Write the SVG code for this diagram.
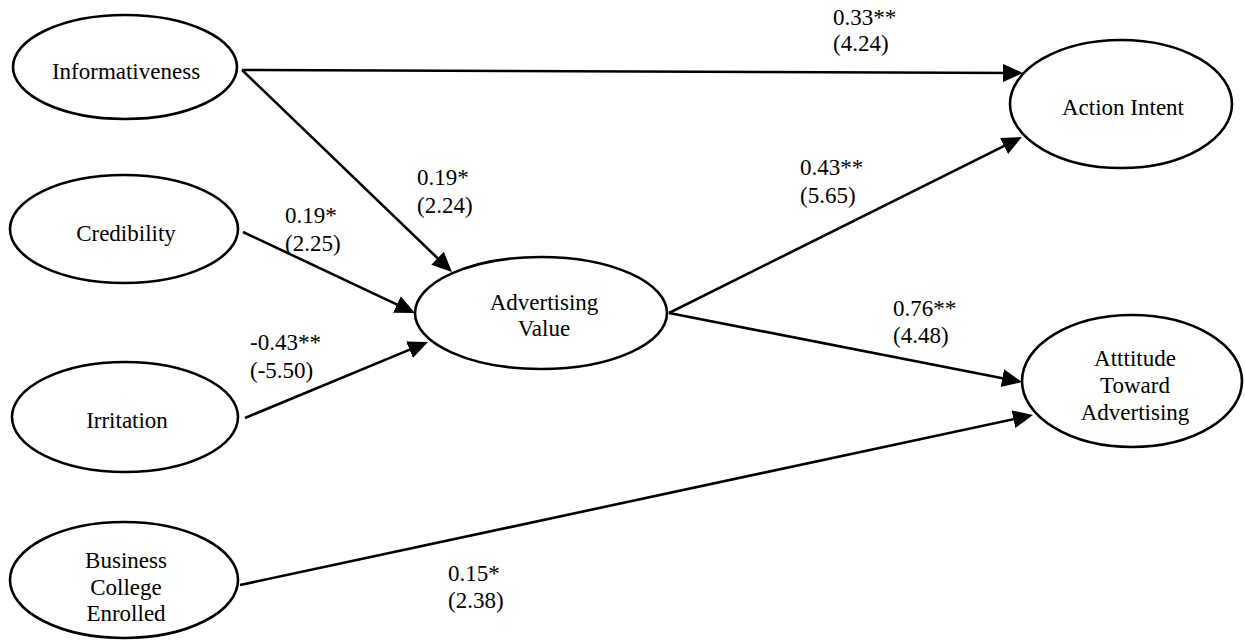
<svg xmlns="http://www.w3.org/2000/svg" width="1245" height="642" viewBox="0 0 1245 642" font-family="'Liberation Serif', 'Times New Roman', 'DejaVu Serif', serif">
<style>
.n{fill:#fff;stroke:#000;stroke-width:2.6}
.t{font-family:'Liberation Serif','Times New Roman','DejaVu Serif',serif;font-size:23px;fill:#000}
.c{text-anchor:middle}
.e{stroke:#000;stroke-width:2.6;fill:none;marker-end:url(#ah)}
</style>
<defs>
<marker id="ah" markerUnits="userSpaceOnUse" markerWidth="21" markerHeight="19" refX="12" refY="9" orient="auto">
<path d="M0,0 L20,9 L0,18 Z" fill="#000"/>
</marker>
</defs>
<rect width="1245" height="642" fill="#fff"/>
<g id="connectors">
<line class="e" x1="242" y1="70" x2="1015" y2="73"/>
<line class="e" x1="242" y1="70" x2="446.2" y2="266.5"/>
<line class="e" x1="243" y1="232" x2="407.8" y2="309.6"/>
<line class="e" x1="245" y1="418" x2="420.6" y2="345.1"/>
<line class="e" x1="669" y1="313" x2="1014.8" y2="140.6"/>
<line class="e" x1="669" y1="313" x2="1014.1" y2="380.5"/>
<line class="e" x1="240" y1="585" x2="1025.2" y2="416.7"/>
</g>
<g id="labels" class="t" font-family="'Liberation Serif', 'Times New Roman', serif">
<text x="833" y="25">0.33**</text><text x="833" y="51">(4.24)</text>
<text x="417" y="185">0.19*</text><text x="417" y="213">(2.24)</text>
<text x="285" y="223">0.19*</text><text x="285" y="251">(2.25)</text>
<text x="250" y="350">-0.43**</text><text x="250" y="378">(-5.50)</text>
<text x="800" y="175">0.43**</text><text x="800" y="203">(5.65)</text>
<text x="893" y="316">0.76**</text><text x="893" y="343">(4.48)</text>
<text x="448" y="581">0.15*</text><text x="448" y="608">(2.38)</text>
</g>
<g id="informativeness"><ellipse class="n" cx="125" cy="67" rx="112" ry="52"/><text class="t c" x="126" y="79">Informativeness</text></g>
<g id="credibility"><ellipse class="n" cx="124" cy="229" rx="114" ry="54"/><text class="t c" x="126" y="241">Credibility</text></g>
<g id="irritation"><ellipse class="n" cx="125" cy="417" rx="113" ry="55"/><text class="t c" x="127" y="428">Irritation</text></g>
<g id="business"><ellipse class="n" cx="124" cy="580" rx="114" ry="58"/><text class="t c" x="126" y="568">Business</text><text class="t c" x="126" y="595">College</text><text class="t c" x="126" y="621">Enrolled</text></g>
<g id="advertising-value"><ellipse class="n" cx="541" cy="313" rx="126" ry="56"/><text class="t c" x="544" y="310">Advertising</text><text class="t c" x="544" y="336">Value</text></g>
<g id="action-intent"><ellipse class="n" cx="1121" cy="104" rx="111" ry="64"/><text class="t c" x="1123" y="115">Action Intent</text></g>
<g id="attitude"><ellipse class="n" cx="1132" cy="381" rx="110" ry="66"/><text class="t c" x="1135" y="366">Atttitude</text><text class="t c" x="1135" y="393">Toward</text><text class="t c" x="1135" y="420">Advertising</text></g>
</svg>
